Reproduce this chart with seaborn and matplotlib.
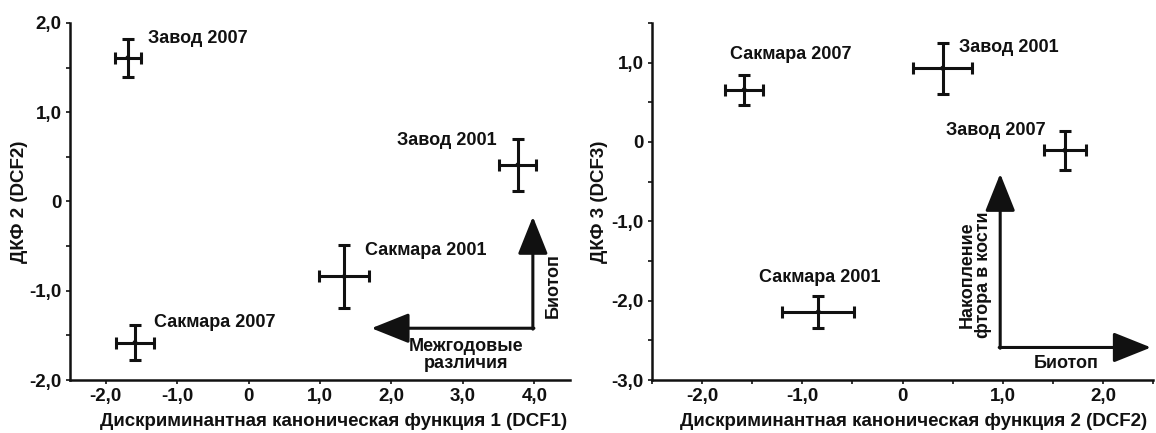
import numpy as np
import pandas as pd
import matplotlib
matplotlib.use("Agg")
import matplotlib.pyplot as plt
from matplotlib.ticker import FixedLocator, FuncFormatter, MultipleLocator
import seaborn as sns

# ---- data: left panel (DCF1 vs DCF2) ----
groups_l = ["Завод 2007", "Завод 2001", "Сакмара 2001", "Сакмара 2007"]
dcf1_l = [-1.69, 3.77, 1.34, -1.59]
dcf2_l = [1.61, 0.41, -0.84, -1.58]
xerr_l = [0.185, 0.26, 0.35, 0.265]
yerr_l = [0.21, 0.29, 0.355, 0.195]

# ---- data: right panel (DCF2 vs DCF3) ----
groups_r = ["Сакмара 2007", "Завод 2001", "Завод 2007", "Сакмара 2001"]
dcf2_r = [-1.58, 0.40, 1.62, -0.84]
dcf3_r = [0.66, 0.93, -0.105, -2.14]
xerr_r = [0.19, 0.295, 0.21, 0.36]
yerr_r = [0.19, 0.32, 0.245, 0.205]

sns.set_theme(style="white")
plt.rcParams["font.family"] = ["Liberation Sans", "DejaVu Sans"]
plt.rcParams["font.weight"] = "bold"

fig = plt.figure(figsize=(11.56, 4.33), dpi=100)
axL = fig.add_axes([70/1156, 1-380/433, 500/1156, 357/433])
axR = fig.add_axes([652/1156, 1-380/433, 501/1156, 357/433])

INK = "#111111"
TICK_FS = 13.5
LAB_FS = 13.5
ANN_FS = 13

def fmt(v, pos):
    if abs(v) < 1e-9:
        return "0"
    return f"{v:.1f}".replace(".", ",")

def style(ax, xlim, ylim, xmaj, ymaj, xminor, yminor):
    ax.set_xlim(*xlim)
    ax.set_ylim(*ylim)
    ax.xaxis.set_major_locator(FixedLocator(xmaj))
    ax.yaxis.set_major_locator(FixedLocator(ymaj))
    if xminor:
        ax.xaxis.set_minor_locator(MultipleLocator(0.5))
    if yminor:
        ax.yaxis.set_minor_locator(MultipleLocator(0.5))
    ax.xaxis.set_major_formatter(FuncFormatter(fmt))
    ax.yaxis.set_major_formatter(FuncFormatter(fmt))
    for s in ["top", "right"]:
        ax.spines[s].set_visible(False)
    for s in ["left", "bottom"]:
        ax.spines[s].set_linewidth(1.8)
        ax.spines[s].set_color(INK)
    ax.tick_params(which="both", direction="out", length=3, width=1.2,
                   color=INK, left=True, bottom=True,
                   labelsize=TICK_FS, pad=3, labelcolor=INK)
    for lab in ax.get_xticklabels() + ax.get_yticklabels():
        lab.set_fontweight("bold")
    ax.set_facecolor("white")
    ax.grid(False)

def draw_points(ax, x, y, xe, ye, names):
    df = pd.DataFrame({"x": x, "y": y, "g": names})
    ax.errorbar(x, y, xerr=xe, yerr=ye, fmt="none", ecolor=INK,
                elinewidth=2.2, capsize=4, capthick=2.2)
    sns.scatterplot(data=df, x="x", y="y", ax=ax, s=12, color=INK,
                    edgecolor="none", legend=False, zorder=3)

draw_points(axL, dcf1_l, dcf2_l, xerr_l, yerr_l, groups_l)
draw_points(axR, dcf2_r, dcf3_r, xerr_r, yerr_r, groups_r)

style(axL, (-2.5, 4.5), (-2.0, 2.0), [-2, -1, 0, 1, 2, 3, 4], [-2, -1, 0, 1, 2], False, True)
style(axR, (-2.5, 2.5), (-3.0, 1.5), [-2, -1, 0, 1, 2], [-3, -2, -1, 0, 1], True, True)

lab_kw = dict(fontsize=LAB_FS, fontweight="bold", color=INK)
axL.set_xlabel("Дискриминантная каноническая функция 1 (DCF1)", va="center", **lab_kw)
axL.set_ylabel("ДКФ 2 (DCF2)", va="center", **lab_kw)
axR.set_xlabel("Дискриминантная каноническая функция 2 (DCF2)", va="center", **lab_kw)
axR.set_ylabel("ДКФ 3 (DCF3)", va="center", **lab_kw)
axL.xaxis.set_label_coords(0.528, -41/357)
axR.xaxis.set_label_coords(0.522, -41/357)
axL.yaxis.set_label_coords(-50/500, 0.5)
axR.yaxis.set_label_coords(-52/501, 0.5)

t_kw = dict(fontsize=ANN_FS, fontweight="bold", color=INK, va="center")
# left panel labels
axL.text(-1.41, 1.83, "Завод 2007", ha="left", **t_kw)
axL.text(3.47, 0.68, "Завод 2001", ha="right", **t_kw)
axL.text(1.63, -0.55, "Сакмара 2001", ha="left", **t_kw)
axL.text(-1.33, -1.36, "Сакмара 2007", ha="left", **t_kw)
# right panel labels
axR.text(-1.72, 1.10, "Сакмара 2007", ha="left", **t_kw)
axR.text(0.56, 1.19, "Завод 2001", ha="left", **t_kw)
axR.text(1.43, 0.15, "Завод 2007", ha="right", **t_kw)
axR.text(-1.43, -1.71, "Сакмара 2001", ha="left", **t_kw)

arr = dict(arrowstyle="-|>,head_length=1.95,head_width=0.78",
           color=INK, lw=2.2, shrinkA=0, shrinkB=0)

# arrows left panel
axL.annotate("", xy=(1.72, -1.42), xytext=(3.995, -1.42), arrowprops=arr)
axL.annotate("", xy=(3.98, -0.17), xytext=(3.98, -1.43), arrowprops=arr)
axL.text(4.26, -0.94, "Биотоп", rotation=90, ha="center", va="center",
         fontsize=ANN_FS, fontweight="bold", color=INK)
axL.text(3.05, -1.715, "Межгодовые\nразличия", ha="center", va="center",
         fontsize=ANN_FS, fontweight="bold", color=INK, linespacing=1.0)

# arrows right panel
axR.annotate("", xy=(2.48, -2.59), xytext=(0.965, -2.59), arrowprops=arr,
             annotation_clip=False)
axR.annotate("", xy=(0.975, -0.40), xytext=(0.975, -2.60), arrowprops=arr)
axR.text(0.73, -1.67, "Накопление\nфтора в кости", rotation=90, ha="center",
         va="center", fontsize=ANN_FS, fontweight="bold", color=INK,
         linespacing=0.95)
axR.text(1.63, -2.79, "Биотоп", ha="center", va="center",
         fontsize=ANN_FS, fontweight="bold", color=INK)

fig.savefig("out.png", dpi=100, facecolor="white")
